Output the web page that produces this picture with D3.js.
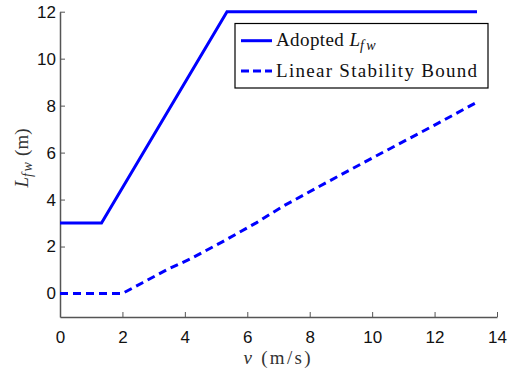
<!DOCTYPE html>
<html><head><meta charset="utf-8">
<script src="https://cdn.jsdelivr.net/npm/d3@7"></script>
<style>body{margin:0;background:#fff}svg{display:block}</style>
</head><body>
<svg id="c" width="511" height="377"></svg>
<script>
const adoptedV = [0, 1.33, 5.35, 13.36];
const adoptedL = [3, 3, 12, 12];
const boundV = [0, 2, 2.66, 3.43, 4.17, 5.2, 6.3, 7.15, 8.5, 10.26, 12, 13.36];
const boundL = [0, 0, 0.47, 1.02, 1.47, 2.2, 3.02, 3.72, 4.7, 5.95, 7.17, 8.15];
const xTicks = [0, 2, 4, 6, 8, 10, 12, 14];
const yTicks = [0, 2, 4, 6, 8, 10, 12];
const legendLabels = ["Adopted ", "Linear Stability Bound"];

const svg = d3.select("#c");
const x = d3.scaleLinear().domain([0, 14]).range([60, 497]);
const y = d3.scaleLinear().domain([-1, 12]).range([317, 11.7]);

const tickFont = "'Liberation Sans', Arial, sans-serif";
const serif = "'Liberation Serif', 'Times New Roman', serif";

// axes
const xAxis = svg.append("g").attr("transform", `translate(0,${y(-1)})`)
  .call(d3.axisBottom(x).tickValues(xTicks).tickSizeInner(-5).tickSizeOuter(0).tickPadding(14).tickFormat(d3.format("d")));
const yAxis = svg.append("g").attr("transform", `translate(${x(0)},0)`)
  .call(d3.axisLeft(y).tickValues(yTicks).tickSizeInner(-5).tickSizeOuter(0).tickPadding(4).tickFormat(d3.format("d")));
[xAxis, yAxis].forEach(g => {
  g.select(".domain").attr("stroke", "#555").attr("stroke-width", 1.5);
  g.selectAll(".tick line").attr("stroke", "#555");
  g.selectAll(".tick text").attr("font-family", tickFont).attr("font-size", 17).attr("fill", "#111");
});

// lines
const line = d3.line().x(d => x(d[0])).y(d => y(d[1]));
svg.append("path").datum(adoptedV.map((v, i) => [v, adoptedL[i]]))
  .attr("d", line).attr("fill", "none").attr("stroke", "#0000ff").attr("stroke-width", 3);
svg.append("path").datum(boundV.map((v, i) => [v, boundL[i]]))
  .attr("d", line).attr("fill", "none").attr("stroke", "#0000ff").attr("stroke-width", 3)
  .attr("stroke-dasharray", "8,5");

// axis labels
const xl = svg.append("text").attr("x", 277).attr("y", 364).attr("text-anchor", "middle")
  .attr("font-family", serif).attr("font-size", 19).attr("fill", "#333")
  .attr("textLength", 67).attr("lengthAdjust", "spacing");
xl.append("tspan").attr("font-style", "italic").text("v");
xl.append("tspan").text("  (m/s)");

const yl = svg.append("text").attr("transform", "translate(28,158) rotate(-90)").attr("text-anchor", "middle")
  .attr("font-family", serif).attr("font-size", 19).attr("fill", "#333");
yl.append("tspan").attr("font-style", "italic").text("L");
yl.append("tspan").attr("font-style", "italic").attr("font-size", 14).attr("dy", 4).attr("letter-spacing", 1.5).text("fw");
yl.append("tspan").attr("dy", -4).text("  (m)");

// legend
const lg = svg.append("g");
lg.append("rect").attr("x", 235).attr("y", 23.5).attr("width", 253).attr("height", 64.5)
  .attr("fill", "#fff").attr("stroke", "#000").attr("stroke-width", 1.2);
const rows = [40.7, 71];
lg.append("line").attr("x1", 241).attr("x2", 272).attr("y1", rows[0]).attr("y2", rows[0])
  .attr("stroke", "#0000ff").attr("stroke-width", 3);
lg.append("line").attr("x1", 241).attr("x2", 272).attr("y1", rows[1]).attr("y2", rows[1])
  .attr("stroke", "#0000ff").attr("stroke-width", 3).attr("stroke-dasharray", "8,4");
const t1 = lg.append("text").attr("x", 276).attr("y", rows[0] + 5.5)
  .attr("font-family", serif).attr("font-size", 19).attr("fill", "#111");
t1.append("tspan").attr("letter-spacing", 0.4).text(legendLabels[0]);
t1.append("tspan").attr("font-style", "italic").text("L");
t1.append("tspan").attr("font-style", "italic").attr("font-size", 14).attr("dy", 4).attr("letter-spacing", 2.5).text("fw");
lg.append("text").attr("x", 276).attr("y", rows[1] + 5.5)
  .attr("font-family", serif).attr("font-size", 19).attr("fill", "#111")
  .attr("textLength", 201).attr("lengthAdjust", "spacing").text(legendLabels[1]);
</script>
</body></html>
